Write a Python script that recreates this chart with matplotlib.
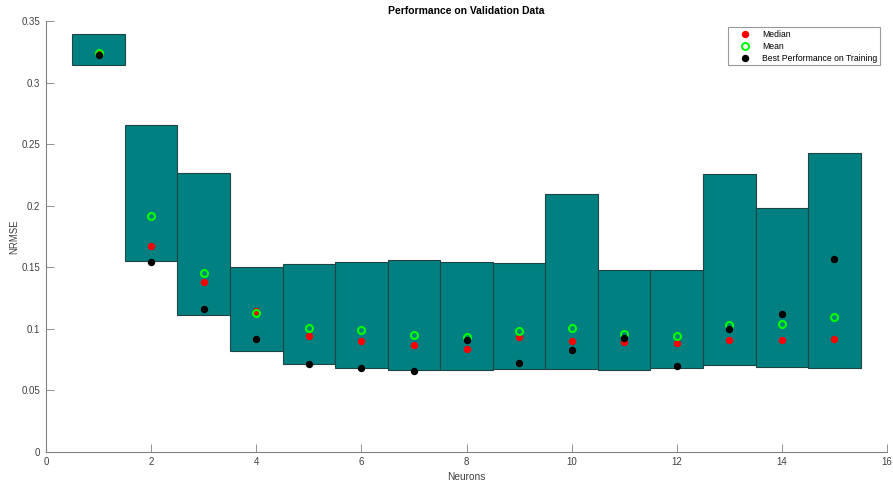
import numpy as np
import matplotlib
matplotlib.use("Agg")
from matplotlib import pyplot as plt

plt.rcParams.update({
    "font.family": ["Liberation Sans", "DejaVu Sans"],
    "font.size": 7,
})

# Data
neurons = np.arange(1, 16)
box_top = [0.3396, 0.2656, 0.2266, 0.1503, 0.1525, 0.1543, 0.1560, 0.1543,
           0.1532, 0.2093, 0.1478, 0.1478, 0.2256, 0.1980, 0.2429]
box_bottom = [0.3144, 0.1552, 0.1113, 0.0820, 0.0717, 0.0685, 0.0663, 0.0666,
              0.0677, 0.0672, 0.0663, 0.0680, 0.0704, 0.0693, 0.0685]
median = [0.3230, 0.1673, 0.1380, 0.1148, 0.0942, 0.0902, 0.0866, 0.0837,
          0.0932, 0.0904, 0.0890, 0.0883, 0.0912, 0.0912, 0.0918]
mean = [0.3240, 0.1917, 0.1454, 0.1130, 0.1010, 0.0988, 0.0947, 0.0934,
        0.0980, 0.1007, 0.0956, 0.0945, 0.1034, 0.1040, 0.1097]
best = [0.3220, 0.1543, 0.1160, 0.0918, 0.0715, 0.0680, 0.0660, 0.0910,
        0.0720, 0.0829, 0.0929, 0.0699, 0.0999, 0.1121, 0.1568]

fig = plt.figure(figsize=(8.93, 4.84), dpi=100)
ax = fig.add_axes([46 / 893, 1 - 452 / 484, 841 / 893, 431 / 484])

heights = np.array(box_top) - np.array(box_bottom)
ax.bar(neurons, heights, bottom=box_bottom, width=1.0, color="#008080",
       edgecolor="#1f4545", linewidth=0.8, zorder=1)

ax.plot(neurons, median, "o", color="red", markersize=4.3, linestyle="none",
        label="Median", zorder=3)
ax.plot(neurons, mean, "o", markerfacecolor="none", markeredgecolor="#00ff00",
        markeredgewidth=1.5, markersize=5, linestyle="none", label="Mean", zorder=4)
ax.plot(neurons, best, "o", color="black", markersize=4.3, linestyle="none",
        label="Best Performance on Training", zorder=5)

ax.set_xlim(0, 16)
ax.set_ylim(0, 0.35)
ax.set_xticks(np.arange(0, 17, 2))
ax.set_yticks(np.arange(0, 0.351, 0.05))
ax.set_yticklabels(["0", "0.05", "0.1", "0.15", "0.2", "0.25", "0.3", "0.35"])

for s in ["top", "right"]:
    ax.spines[s].set_visible(False)
for s in ["left", "bottom"]:
    ax.spines[s].set_color("#808080")
    ax.spines[s].set_linewidth(0.8)
ax.tick_params(direction="in", colors="#808080", length=5.5, width=0.6,
               labelsize=7, labelcolor="#404040")
ax.tick_params(axis="y", pad=4)

ax.set_title("Performance on Validation Data", fontweight="bold", fontsize=7.5,
             pad=5)
ax.set_xlabel("Neurons", color="#404040", fontsize=7.3, labelpad=4)
ax.set_ylabel("NRMSE", color="#404040", fontsize=6.9, labelpad=1.5)

leg = ax.legend(loc="upper right", bbox_to_anchor=(0.9917, 0.9854), fontsize=6.2,
                frameon=True, fancybox=False, borderaxespad=0,
                handlelength=3.35, handletextpad=0.3, labelspacing=0.35,
                borderpad=0.3)
leg.get_frame().set_edgecolor("#808080")
leg.get_frame().set_linewidth(0.8)

fig.savefig("out.png", dpi=100)
